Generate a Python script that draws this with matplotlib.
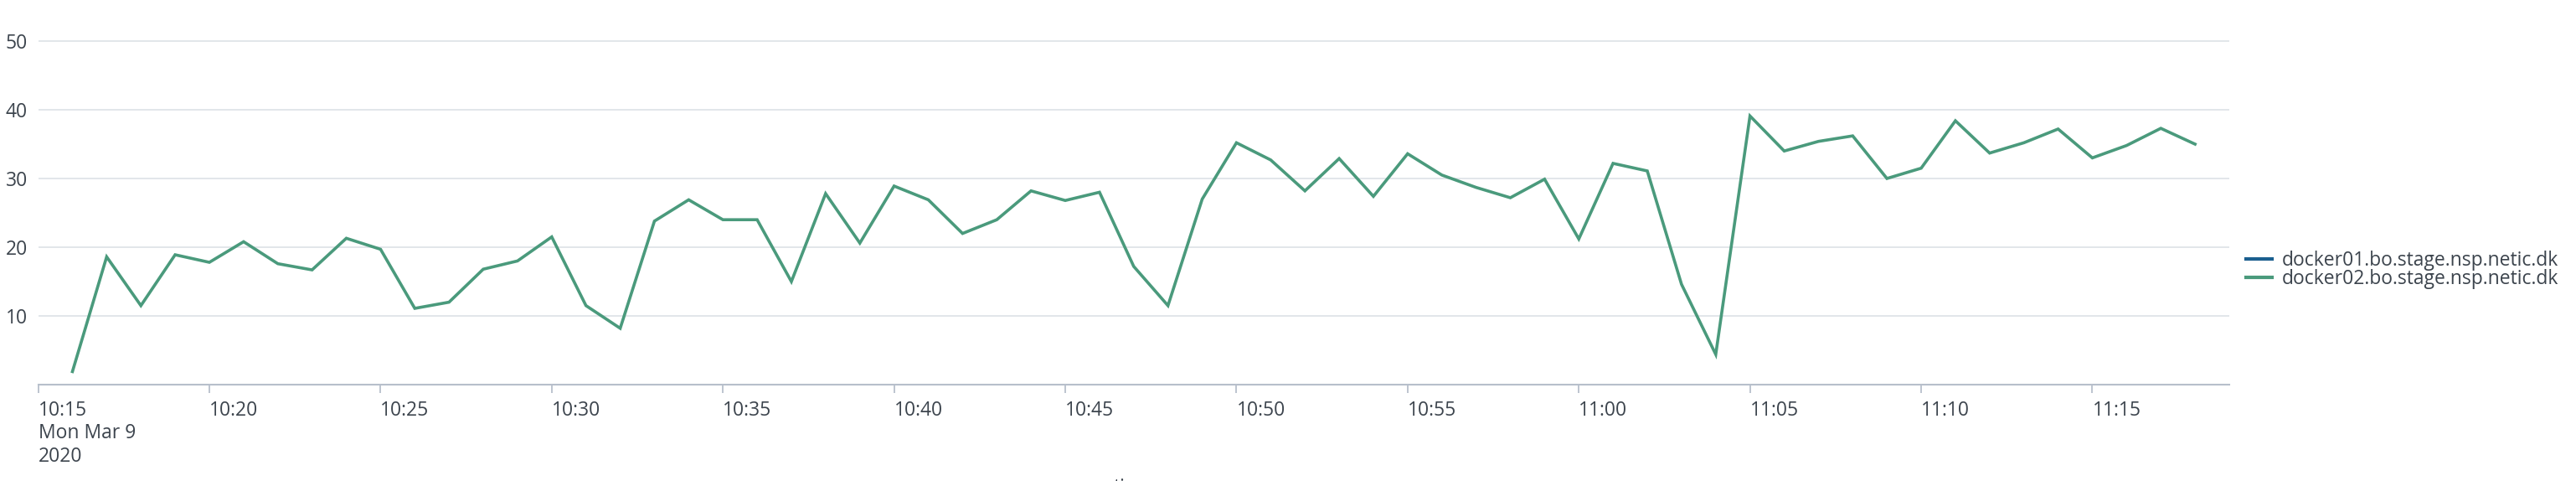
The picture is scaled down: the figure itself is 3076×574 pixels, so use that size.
import matplotlib
matplotlib.use("Agg")
import matplotlib.pyplot as plt
import matplotlib.dates as mdates
import pandas as pd

plt.rcParams['font.family'] = ['Open Sans', 'DejaVu Sans']

start_time = "2020-03-09 10:16"
docker02_values = [
    1.9, 18.6, 11.5, 18.9, 17.8, 20.8, 17.6, 16.7, 21.3, 19.7,
    11.1, 12.0, 16.8, 18.0, 21.5, 11.5, 8.2, 23.8, 26.9, 24.0,
    24.0, 15.0, 27.8, 20.6, 28.9, 26.9, 22.0, 24.0, 28.2, 26.8,
    28.0, 17.2, 11.5, 27.0, 35.2, 32.7, 28.2, 32.9, 27.4, 33.6,
    30.5, 28.7, 27.2, 29.9, 21.2, 32.2, 31.1, 14.6, 4.4, 39.1,
    34.0, 35.4, 36.2, 30.0, 31.5, 38.4, 33.7, 35.2, 37.2, 33.0,
    34.8, 37.3, 35.0,
]
docker01_values = []
series_names = ["docker01.bo.stage.nsp.netic.dk", "docker02.bo.stage.nsp.netic.dk"]
series_colors = ["#1b5f8f", "#4a9a7c"]
y_ticks = [10, 20, 30, 40, 50]
x_label = "time"
first_tick_label = "10:15\nMon Mar 9\n2020"

times = pd.date_range(start_time, periods=len(docker02_values), freq="min")

W, H = 3076, 574
fig = plt.figure(figsize=(W / 100, H / 100), dpi=100)
ax = fig.add_axes([45.6 / W, 1 - 459 / H, (2662 - 45.6) / W, (459 - 8) / H])

text_color = "#3c444d"
axis_color = "#b7bfcb"
grid_color = "#dde1e6"
fs = 16.5

ax.plot(times[:len(docker01_values)], docker01_values, color=series_colors[0], lw=2.6, label=series_names[0])
ax.plot(times, docker02_values, color=series_colors[1], lw=2.6, label=series_names[1], solid_joinstyle="miter")

ax.set_xlim(pd.Timestamp("2020-03-09 10:15"), pd.Timestamp("2020-03-09 11:19"))
ax.set_ylim(0, 55)
ax.set_yticks(y_ticks)
ax.yaxis.grid(True, color=grid_color, lw=1.2)
ax.set_axisbelow(True)

for s in ["top", "right", "left"]:
    ax.spines[s].set_visible(False)
ax.spines["bottom"].set_color(axis_color)
ax.spines["bottom"].set_linewidth(1.5)

ax.tick_params(axis="y", length=0, pad=9, labelsize=fs, labelcolor=text_color)
ax.tick_params(axis="x", length=7.5, width=1.3, color=axis_color, pad=6, labelsize=fs, labelcolor=text_color)

ax.xaxis.set_major_locator(mdates.MinuteLocator(byminute=range(0, 60, 5)))
fmt = mdates.DateFormatter("%H:%M")
ax.xaxis.set_major_formatter(fmt)
fig.canvas.draw()
ticks = ax.get_xticks()
labels = [fmt(t) for t in ticks]
labels[0] = first_tick_label
ax.set_xticks(ticks)
ax.set_xticklabels(labels)
for lab in ax.get_xticklabels():
    lab.set_ha("left")
    lab.set_va("top")
    lab.set_linespacing(1.2)

ax.set_xlabel(x_label, fontsize=fs, color=text_color)
ax.xaxis.set_label_coords(0.5, -(570 - 459) / 451)

leg = fig.legend(loc="center left", bbox_to_anchor=(2682 / W, 1 - 322 / H), frameon=False,
                 fontsize=fs, handlelength=1.35, handletextpad=0.5, labelspacing=-0.12,
                 borderpad=0, borderaxespad=0)
for line in leg.get_lines():
    line.set_linewidth(3)
for t in leg.get_texts():
    t.set_color(text_color)

fig.savefig("out.png", dpi=100)
